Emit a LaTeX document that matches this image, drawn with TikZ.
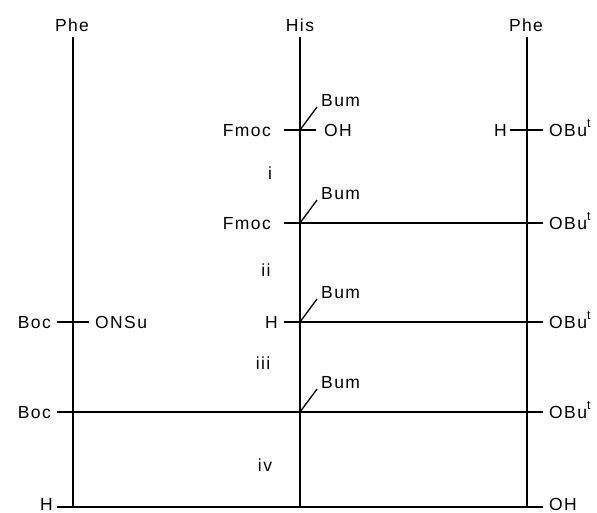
\documentclass[tikz,border=0pt]{standalone}
\usepackage{fontspec}
\setmainfont[LetterSpace=8]{Liberation Sans}
\begin{document}
\begin{tikzpicture}[x=1pt,y=-1pt,
  lbl/.style={inner sep=0pt,font=\fontsize{17.5}{20}\selectfont},
  rl/.style={lbl,anchor=base west},
  ll/.style={lbl,anchor=base east},
  cl/.style={lbl,anchor=base},
  bond/.style={line width=1.3pt},
  chain/.style={line width=1.3pt}]
\useasboundingbox (0,0) rectangle (597,512);
\newcommand{\obut}{OBu\raisebox{0.5em}{\fontsize{12.5}{13}\selectfont t}}
% chains
\node[cl] (phe1) at (72,31) {Phe};
\node[cl] (his) at (300,31) {His};
\node[cl] (phe2) at (526,31) {Phe};
\coordinate (a0) at (73,37);  \coordinate (a1) at (73,507);
\coordinate (b0) at (300,37); \coordinate (b1) at (300,507);
\coordinate (c0) at (527,37); \coordinate (c1) at (527,507);
\draw[chain] (a0) -- (a1);
\draw[chain] (b0) -- (b1);
\draw[chain] (c0) -- (c1);
% row 1
\coordinate (r1a) at (284,130); \coordinate (r1b) at (316,130);
\draw[bond] (r1a) -- (r1b);
\node[ll] (fmoc1) at (271,136) {Fmoc};
\node[rl] (oh1) at (324,136) {OH};
\coordinate (d1a) at (300,130); \coordinate (d1b) at (317,107);
\draw[bond] (d1a) -- (d1b);
\node[rl] (bum1) at (321,106) {Bum};
\coordinate (s1a) at (510,130); \coordinate (s1b) at (543,130);
\draw[bond] (s1a) -- (s1b);
\node[ll] (h1) at (507,136) {H};
\node[rl] (ob1) at (549,136) {\obut};
\node[cl] (st1) at (270,179) {i};
% row 2
\coordinate (r2a) at (284,223); \coordinate (r2b) at (543,223);
\draw[bond] (r2a) -- (r2b);
\node[ll] (fmoc2) at (271,229) {Fmoc};
\node[rl] (ob2) at (549,229) {\obut};
\coordinate (d2a) at (300,223); \coordinate (d2b) at (317,200);
\draw[bond] (d2a) -- (d2b);
\node[rl] (bum2) at (321,199) {Bum};
\node[cl] (st2) at (266,276) {ii};
% row 3
\coordinate (l3a) at (57,322); \coordinate (l3b) at (89,322);
\draw[bond] (l3a) -- (l3b);
\node[ll] (boc3) at (51,328) {Boc};
\node[rl] (onsu) at (95,328) {ONSu};
\coordinate (r3a) at (284,322); \coordinate (r3b) at (543,322);
\draw[bond] (r3a) -- (r3b);
\node[ll] (h3) at (278,328) {H};
\node[rl] (ob3) at (549,328) {\obut};
\coordinate (d3a) at (300,322); \coordinate (d3b) at (317,299);
\draw[bond] (d3a) -- (d3b);
\node[rl] (bum3) at (321,298) {Bum};
\node[cl] (st3) at (263,369) {iii};
% row 4
\coordinate (r4a) at (57,412); \coordinate (r4b) at (543,412);
\draw[bond] (r4a) -- (r4b);
\node[ll] (boc4) at (51,418) {Boc};
\node[rl] (ob4) at (549,418) {\obut};
\coordinate (d4a) at (300,412); \coordinate (d4b) at (317,389);
\draw[bond] (d4a) -- (d4b);
\node[rl] (bum4) at (321,388) {Bum};
\node[cl] (st4) at (265,471) {iv};
% row 5
\coordinate (r5a) at (57,507); \coordinate (r5b) at (543,507);
\draw[bond] (r5a) -- (r5b);
\node[ll] (h5) at (53,510.5) {H};
\node[rl] (oh5) at (549,510.5) {OH};
\end{tikzpicture}
\end{document}
